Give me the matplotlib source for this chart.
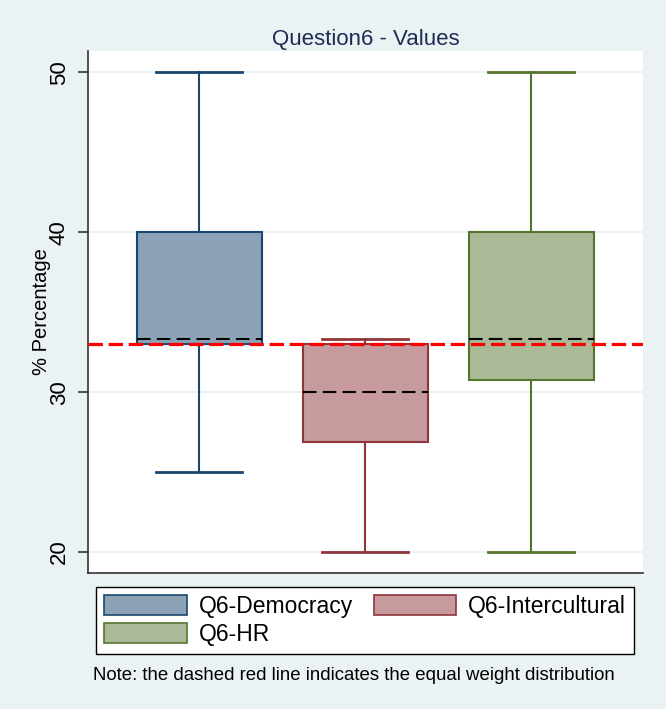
import matplotlib
matplotlib.use("Agg")
import matplotlib.pyplot as plt
from matplotlib.patches import Patch

plt.rcParams['font.family'] = ['Liberation Sans', 'DejaVu Sans']

categories = ["Q6-Democracy", "Q6-Intercultural", "Q6-HR"]
whislo = [25.0, 20.0, 20.0]
q1 = [33.0, 26.9, 30.77]
med = [33.33, 30.0, 33.33]
q3 = [40.0, 33.0, 40.0]
whishi = [50.0, 33.33, 50.0]
equal_weight = 33.0
yticks = [20, 30, 40, 50]

edge_colors = ["#1a476f", "#90353b", "#55752f"]
fill_colors = ["#8ca3b7", "#c79a9d", "#aaba97"]
bg = "#eaf2f3"

fig = plt.figure(figsize=(6.66, 7.09), dpi=100, facecolor=bg)
ax = fig.add_axes([88/666, 1-573/709, (643-88)/666, (573-51)/709])
ax.set_facecolor("white")

for y in yticks:
    ax.axhline(y, color=bg, lw=1.5, zorder=0)

stats = []
for i, c in enumerate(categories):
    stats.append(dict(label=c, whislo=whislo[i], q1=q1[i], med=med[i],
                      q3=q3[i], whishi=whishi[i], fliers=[]))

positions = [1, 2, 3]
for i in range(3):
    ax.bxp([stats[i]], positions=[positions[i]], widths=0.753, patch_artist=True,
           showfliers=False, manage_ticks=False,
           boxprops=dict(facecolor=fill_colors[i], edgecolor=edge_colors[i], lw=1.5),
           whiskerprops=dict(color=edge_colors[i], lw=1.5),
           capprops=dict(color=edge_colors[i], lw=2.0),
           capwidths=0.518,
           medianprops=dict(color="black", lw=1.5, linestyle=(0, (6.5, 3))),
           zorder=2)

ax.axhline(equal_weight, color="#ff0000", lw=2.3, linestyle=(0, (4.5, 1.8)), zorder=3)

ax.set_xlim(0.331, 3.672)
ax.set_ylim(18.69, 51.34)
ax.set_xticks([])
ax.set_yticks(yticks)
ax.tick_params(axis='y', length=7, width=1.2, color="#333333", labelsize=16,
               pad=6, labelrotation=90)
for lab in ax.get_yticklabels():
    lab.set_va('center')
for s in ["top", "right"]:
    ax.spines[s].set_visible(False)
for s in ["left", "bottom"]:
    ax.spines[s].set_color("#333333")
    ax.spines[s].set_linewidth(1.2)

ax.set_ylabel("% Percentage", fontsize=14.5)
ax.yaxis.set_label_coords((51 - 88) / 555, 0.5)
ax.set_title("Question6 - Values", fontsize=16, color="#1e2d55", pad=4)

handles = [Patch(facecolor=fill_colors[0], edgecolor=edge_colors[0], lw=1.2),
           Patch(facecolor=fill_colors[2], edgecolor=edge_colors[2], lw=1.2),
           Patch(facecolor=fill_colors[1], edgecolor=edge_colors[1], lw=1.2)]
labels = [categories[0], categories[2], categories[1]]
leg = fig.legend(handles, labels, loc='upper left', ncol=2,
                 bbox_to_anchor=(96/666, 1-655/709, (634-96)/666, (655-587)/709),
                 mode='expand', fontsize=16.5, handlelength=3.6, handleheight=0.95,
                 handletextpad=0.52, labelspacing=0.22, borderpad=0.35,
                 borderaxespad=0, fancybox=False, framealpha=1,
                 edgecolor="black", facecolor="white")
leg.get_frame().set_linewidth(1.0)

fig.text(93/666, 1-675/709, "Note: the dashed red line indicates the equal weight distribution",
         fontsize=13.4, va='center', ha='left')

fig.savefig("out.png", dpi=100, facecolor=bg)
